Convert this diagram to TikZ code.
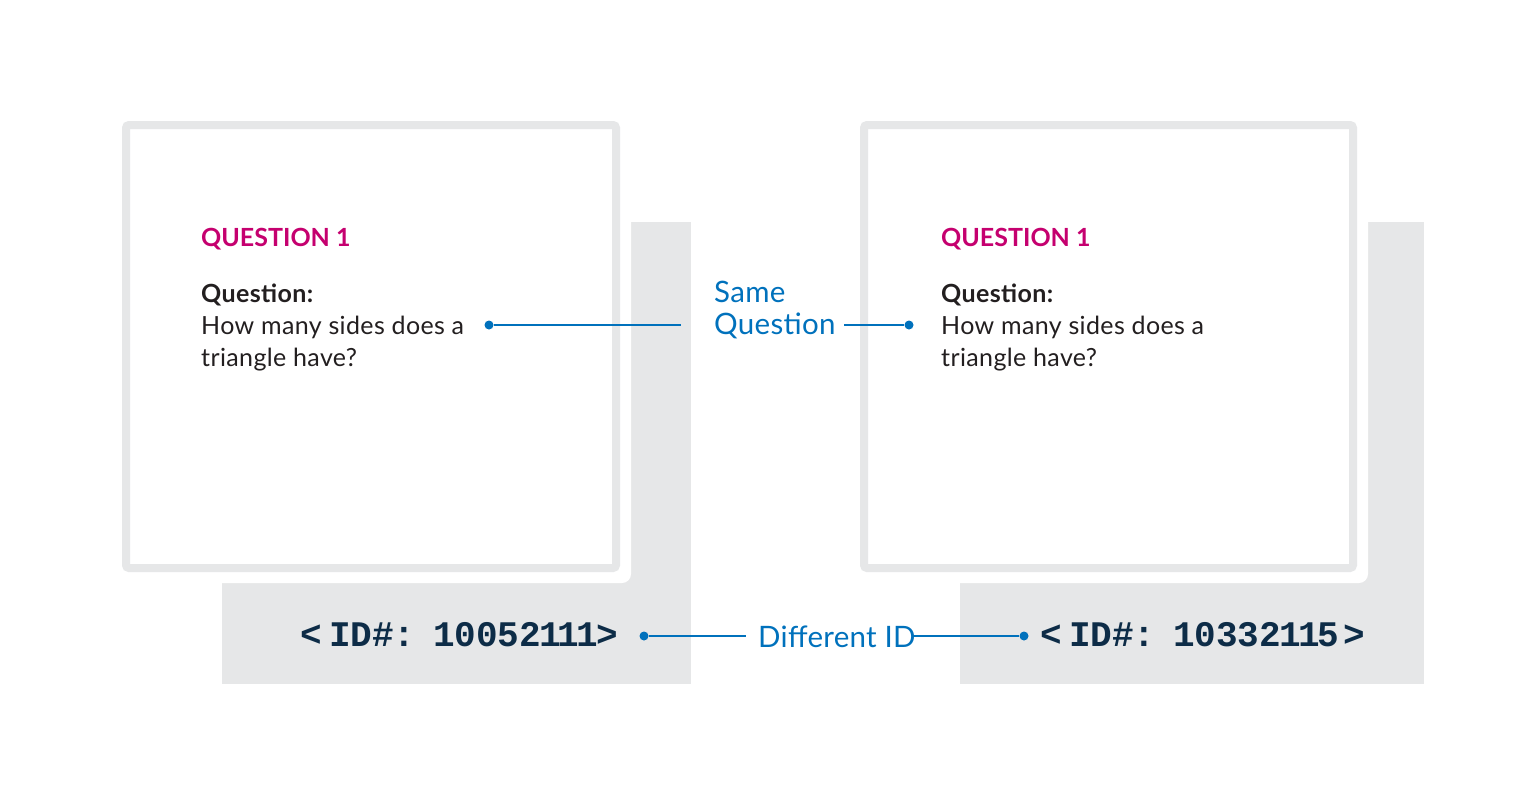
\documentclass[tikz,border=0pt]{standalone}
\usepackage{fontspec}
\setmainfont{Lato}
\newfontfamily\bodyfont{Lato}[LetterSpace=1.5]
\newfontfamily\labelfont{Lato}[LetterSpace=1]
\newfontfamily\idfont{Liberation Mono}
\definecolor{cardgray}{HTML}{E6E7E8}
\definecolor{qmagenta}{HTML}{C5006F}
\definecolor{lineblue}{HTML}{0071BC}
\definecolor{bodytext}{HTML}{231F20}
\definecolor{idnavy}{HTML}{0D2C47}
\begin{document}
\begin{tikzpicture}[x=1pt,y=-1pt,
  txt/.style={inner sep=0pt,anchor=base west},
  qtitle/.style={txt,text=qmagenta,font=\fontsize{25}{28}\selectfont\bfseries},
  qhead/.style={txt,text=bodytext,font=\fontsize{25}{28}\bodyfont\bfseries},
  qbody/.style={txt,text=bodytext,font=\fontsize{25}{28}\bodyfont},
  bluelabel/.style={txt,text=lineblue,font=\fontsize{29.5}{32}\labelfont},
  idtext/.style={txt,text=idnavy,font=\fontsize{36}{40}\idfont\bfseries},
  dotnode/.style={circle,fill=lineblue,inner sep=0pt,minimum size=9pt},
  conn/.style={draw=lineblue,line width=2pt},
  cardframe/.style={draw=cardgray,line width=8pt,fill=white,rounded corners=3pt},
  backplate/.style={fill=cardgray},
  gapfill/.style={fill=white,rounded corners=9pt}
]
\useasboundingbox (0,0) rectangle (1532,806);

% ---- left card ----
\fill[backplate] (222,222) rectangle (691,684);
\fill[gapfill] (90,90) rectangle (631,583);
\draw[cardframe] (126,125) rectangle (616,568);

% ---- right card ----
\fill[backplate] (960,222) rectangle (1424,684);
\fill[gapfill] (830,90) rectangle (1368,583);
\draw[cardframe] (864,125) rectangle (1353,568);

% ---- left card text ----
\node[qtitle] (lt) at (201,246) {QUESTION 1};
\node[qhead] (lq) at (201,302) {Question:};
\node[qbody] (lb1) at (201,334) {How many sides does a};
\node[qbody] (lb2) at (201,366) {triangle have?};

% ---- right card text ----
\node[qtitle] (rt) at (941,246) {QUESTION 1};
\node[qhead] (rq) at (941,302) {Question:};
\node[qbody] (rb1) at (941,334) {How many sides does a};
\node[qbody] (rb2) at (941,366) {triangle have?};

% ---- centre labels ----
\node[bluelabel] (same1) at (714,302) {Same};
\node[bluelabel] (same2) at (714,334) {Question};
\node[bluelabel] (diff) at (758,647) {Different ID};

% ---- IDs ----
\node[idtext] (lid) at (300,646) {<\hspace{7.4pt}ID\#:\hspace{17.6pt}10052\hspace{-2pt}1\hspace{-3pt}1\hspace{-3pt}1\hspace{-2pt}>};
\node[idtext] (rid) at (1040,646) {<\hspace{7.4pt}ID\#:\hspace{17.6pt}10332\hspace{-2pt}1\hspace{-2pt}1\hspace{-3pt}5\hspace{5pt}>};

% ---- connectors ----
\node[dotnode] (d1) at (489,325) {};
\coordinate (e1) at (681,325);
\draw[conn] (d1) -- (e1);

\coordinate (e2) at (844,325);
\node[dotnode] (d2) at (909,325) {};
\draw[conn] (e2) -- (d2);

\node[dotnode] (d3) at (644,636) {};
\coordinate (e3) at (746,636);
\draw[conn] (d3) -- (e3);

\coordinate (e4) at (913,636);
\node[dotnode] (d4) at (1024,636) {};
\draw[conn] (e4) -- (d4);
\end{tikzpicture}
\end{document}
